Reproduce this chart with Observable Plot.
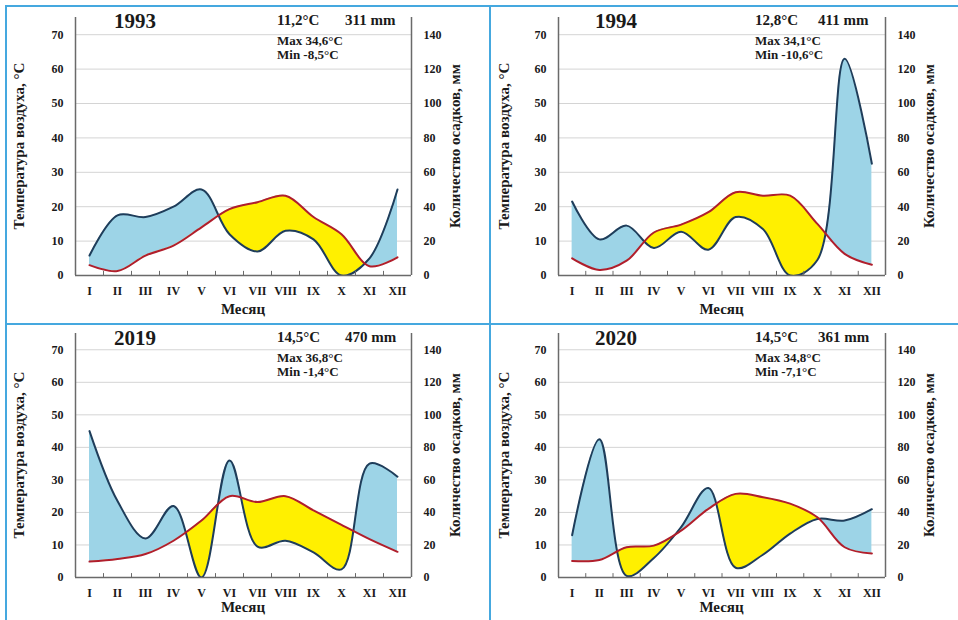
<!DOCTYPE html>
<html><head><meta charset="utf-8">
<script src="https://cdn.jsdelivr.net/npm/d3@7"></script>
<script src="https://cdn.jsdelivr.net/npm/@observablehq/plot@0.6"></script>
<style>
body{margin:0;background:#fff;}
#root{position:relative;width:958px;height:620px;overflow:hidden;font-family:"Liberation Serif","Times New Roman",serif;font-weight:bold;color:#1a1a1a;}
.panel{position:absolute;}
.panel svg{position:absolute;left:0;top:0;}
.t{position:absolute;white-space:nowrap;line-height:1;}
.c{transform:translateX(-50%);}
.rot{position:absolute;white-space:nowrap;line-height:1;transform:translate(-50%,-50%) rotate(-90deg);}
.sep{position:absolute;background:#45a8df;}
</style></head><body><div id="root"></div>
<script>
// ---- data ----
const months = ["I","II","III","IV","V","VI","VII","VIII","IX","X","XI","XII"];
const years = ["1993","1994","2019","2020"];
const temp1993 = [3, 1.3, 5.8, 8.7, 14, 19.3, 21.3, 23.2, 17, 12, 2.7, 5.3];
const precip1993 = [11.6, 35, 34, 40, 50, 24, 14, 26, 21, 0, 10, 50];
const temp1994 = [5, 1.6, 4.3, 12.5, 14.8, 18.4, 24.2, 23.2, 23.2, 15, 6.3, 3.1];
const precip1994 = [43, 21, 29, 16, 25.5, 15, 34, 27, 0, 9, 126, 65];
const temp2019 = [4.9, 5.7, 7.2, 11.3, 17.5, 25, 23.2, 25, 20.6, 16.2, 11.8, 7.9];
const precip2019 = [90, 47, 24, 44, 0, 72, 19, 22.6, 15.4, 5, 70, 62];
const temp2020 = [5.1, 5.4, 9.3, 9.8, 14.4, 21.1, 25.7, 24.7, 22.7, 18.5, 9.3, 7.4];
const precip2020 = [26, 85, 1, 12, 31, 55, 6, 14, 27, 36, 35, 42];
const meanTemp = ["11,2°C", "12,8°C", "14,5°C", "14,5°C"];
const sumPrecip = ["311 mm", "411 mm", "470 mm", "361 mm"];
const maxTemp = ["Max 34,6°C", "Max 34,1°C", "Max 36,8°C", "Max 34,8°C"];
const minTemp = ["Min -8,5°C", "Min -10,6°C", "Min -1,4°C", "Min -7,1°C"];
const tempTicks = [0, 10, 20, 30, 40, 50, 60, 70];
const precipTicks = [0, 20, 40, 60, 80, 100, 120, 140];
const leftTitle = "Температура воздуха, °С";
const rightTitle = "Количество осадков, мм";
const xTitle = "Месяц";

const temps = [temp1993, temp1994, temp2019, temp2020];
const precs = [precip1993, precip1994, precip2019, precip2020];

const root = document.getElementById("root");
const NS = "http://www.w3.org/2000/svg";

function addText(parent, cls, txt, css) {
  const d = document.createElement("div");
  d.className = cls; d.textContent = txt;
  Object.assign(d.style, css);
  parent.appendChild(d);
  return d;
}

function panel(i, col, row) {
  const W = col === 0 ? 490 : 468, H = row === 0 ? 322 : 298;
  const ml = col === 0 ? 75 : 68, mr = col === 0 ? 79 : 73;
  const mt = row === 0 ? 17 : 11, mb = row === 0 ? 47 : 43;
  const rows = months.map((m, k) => ({m: k + 1, label: m, t: temps[i][k], p: precs[i][k]}));
  const tag = "pn" + i;
  const bounds = months.slice(1).map((m, k) => k + 1.5);
  const chart = Plot.plot({
    width: W, height: H,
    marginLeft: ml, marginRight: mr, marginTop: mt, marginBottom: mb,
    style: {fontFamily: '"Liberation Serif","Times New Roman",serif', fontSize: "12px", fontWeight: "bold", color: "#1a1a1a", background: "transparent", overflow: "visible"},
    x: {domain: [0.5, 12.5]},
    y: {domain: [0, 75]},
    marks: [
      Plot.ruleY(tempTicks.slice(1), {stroke: "#d4d4d4", strokeWidth: 1}),
      Plot.areaY(rows, {x: "m", y1: "t", y2: d => d.p / 2, curve: "catmull-rom", fill: "#9dd4e7", clip: "frame", ariaDescription: tag + "-wet"}),
      Plot.areaY(rows, {x: "m", y1: "t", y2: d => d.p / 2, curve: "catmull-rom", fill: "#fff000", ariaDescription: tag + "-dry"}),
      Plot.areaY(rows, {x: "m", y1: 0, y2: "t", curve: "catmull-rom", fill: "black", ariaDescription: tag + "-clip"}),
      Plot.lineY(rows, {x: "m", y: d => d.p / 2, curve: "catmull-rom", stroke: "#1f3d5a", strokeWidth: 2, clip: "frame"}),
      Plot.lineY(rows, {x: "m", y: "t", curve: "catmull-rom", stroke: "#b01e2c", strokeWidth: 2}),
      Plot.ruleX([0.5, 12.5], {stroke: "#6a6a6a", strokeWidth: 1.5}),
      Plot.ruleY([0], {stroke: "#6a6a6a", strokeWidth: 1.5}),
      Plot.ruleX(bounds, {y1: 0, y2: 1.2, stroke: "#6a6a6a", strokeWidth: 1}),
      Plot.axisX({ticks: rows.map(d => d.m), tickFormat: k => months[k - 1], tickSize: 0, tickPadding: 11, label: null}),
      Plot.axisY({anchor: "left", ticks: tempTicks, tickSize: 0, tickPadding: 12, label: null}),
      Plot.axisY({anchor: "right", ticks: tempTicks, tickFormat: (v) => String(precipTicks[tempTicks.indexOf(v)]), tickSize: 0, tickPadding: 12, label: null})
    ]
  });
  // clip the dry (yellow) area to the region under the temperature curve
  const areas = chart.querySelectorAll('g[aria-label="area"]');
  const dry = chart.querySelector(`g[aria-description="${tag}-dry"]`) || areas[1];
  const clipG = chart.querySelector(`g[aria-description="${tag}-clip"]`) || areas[2];
  const p = clipG.querySelector("path").cloneNode(true);
  if (clipG.getAttribute("transform")) p.setAttribute("transform", clipG.getAttribute("transform"));
  const defs = document.createElementNS(NS, "defs");
  const cp = document.createElementNS(NS, "clipPath");
  cp.setAttribute("id", tag + "-cp");
  cp.appendChild(p);
  defs.appendChild(cp);
  chart.insertBefore(defs, chart.firstChild);
  clipG.remove();
  const wrap = document.createElementNS(NS, "g");
  wrap.setAttribute("clip-path", `url(#${tag}-cp)`);
  dry.parentNode.insertBefore(wrap, dry);
  wrap.appendChild(dry);

  const div = document.createElement("div");
  div.className = "panel";
  Object.assign(div.style, {left: (col === 0 ? 0 : 490) + "px", top: (row === 0 ? 0 : 322) + "px", width: W + "px", height: H + "px"});
  div.appendChild(chart);
  root.appendChild(div);

  const dy = row === 0 ? 0 : -5;
  const yearX = col === 0 ? 135 : 126;
  const statX = col === 0 ? 277 : 265;
  const mmX = col === 0 ? 345 : 328;
  addText(div, "t c", years[i], {left: yearX + "px", top: (11 + dy) + "px", fontSize: "21px"});
  addText(div, "t", meanTemp[i], {left: statX + "px", top: (12.5 + dy - (row ? -0.5 : 0)) + "px", fontSize: "15px"});
  addText(div, "t", sumPrecip[i], {left: mmX + "px", top: (12.5 + dy - (row ? -0.5 : 0)) + "px", fontSize: "15px"});
  addText(div, "t", maxTemp[i], {left: statX + "px", top: (34 + dy) + "px", fontSize: "13px"});
  addText(div, "t", minTemp[i], {left: statX + "px", top: (48 + dy) + "px", fontSize: "13px"});
  const cx = ml + (W - ml - mr) / 2;
  addText(div, "t c", xTitle, {left: cx + "px", top: (H - 20) + "px", fontSize: "15px"});
  const cy = mt + (H - mt - mb) / 2;
  addText(div, "rot", leftTitle, {left: (col === 0 ? 19 : 14) + "px", top: cy + "px", fontSize: "15px"});
  addText(div, "rot", rightTitle, {left: (col === 0 ? 455 : 439) + "px", top: cy + "px", fontSize: "15px"});
}

panel(0, 0, 0);
panel(1, 1, 0);
panel(2, 0, 1);
panel(3, 1, 1);

// panel separators
[[5, 5, 953, 2], [5, 5, 2, 615], [489, 5, 2, 615], [5, 323, 953, 2]].forEach(([l, t, w, h]) => {
  const s = document.createElement("div");
  s.className = "sep";
  Object.assign(s.style, {left: l + "px", top: t + "px", width: w + "px", height: h + "px"});
  root.appendChild(s);
});
</script></body></html>
